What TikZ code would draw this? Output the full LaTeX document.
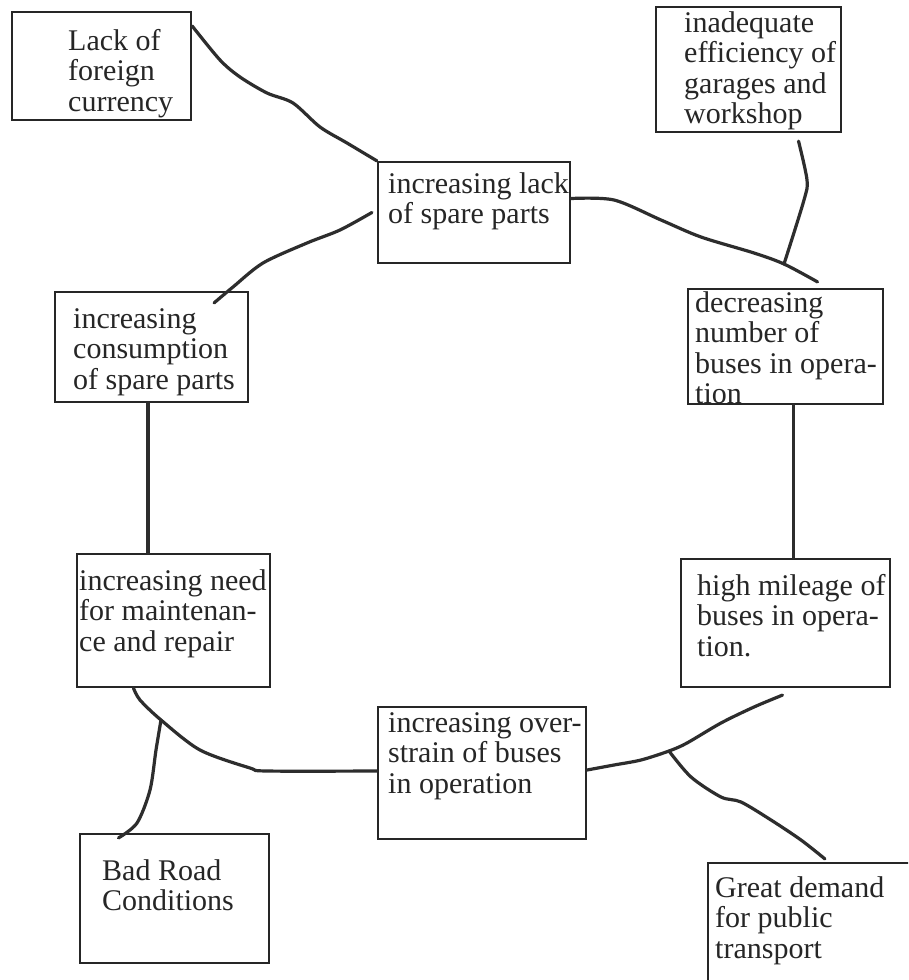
\documentclass[tikz,border=0pt]{standalone}
\usepackage{fontspec}
\setmainfont{Liberation Serif}
\definecolor{ink}{RGB}{38,38,38}
\definecolor{pen}{RGB}{45,45,45}
\tikzstyle{causebox}=[draw=ink, line width=2.2pt, rectangle, inner sep=0pt]
\tikzstyle{causetext}=[anchor=base west, align=left, inner sep=0pt, text=ink, font=\fontsize{30}{30.5}\selectfont]
\tikzstyle{strand}=[draw=pen, line width=3.2pt, line cap=round, line join=round]

\begin{document}
\begin{tikzpicture}[x=1pt, y=-1pt]
            \useasboundingbox (0,0) rectangle (908,980);
            \clip (0,0) rectangle (908,980);
            \fill[white] (0,0) rectangle (908,980);
            % boxes
            \node[causebox, minimum width=179pt, minimum height=108pt] (currency) at (101.5,66) {};
            \node[causebox, minimum width=185pt, minimum height=125pt] (garage) at (748.5,69.5) {};
            \node[causebox, minimum width=192pt, minimum height=101pt] (lack) at (474,212.5) {};
            \node[causebox, minimum width=193pt, minimum height=110pt] (cons) at (151.5,347) {};
            \node[causebox, minimum width=195pt, minimum height=115pt] (fewer) at (785.5,346.5) {};
            \node[causebox, minimum width=209pt, minimum height=128pt] (mileage) at (785.5,623) {};
            \node[causebox, minimum width=193pt, minimum height=133pt] (need) at (173.5,620.5) {};
            \node[causebox, minimum width=208pt, minimum height=132pt] (overs) at (482,773) {};
            \node[causebox, minimum width=189pt, minimum height=129pt] (road) at (174.5,898.5) {};
            \node[causebox, minimum width=227pt, minimum height=142pt] (demand) at (821.5,934) {};
            % texts (placed at the baseline of the last line)
            \node[causetext] (currency-t) at (68,111) {Lack of\\foreign\\currency};
            \node[causetext] (garage-t) at (684,123.5) {inadequate\\efficiency of\\garages and\\workshop};
            \node[causetext] (lack-t) at (388,223.5) {increasing lack\\of spare parts};
            \node[causetext] (cons-t) at (73,389) {increasing\\consumption\\of spare parts};
            \node[causetext] (fewer-t) at (695,403.5) {decreasing\\number of\\buses in opera-\\tion};
            \node[causetext] (mileage-t) at (697,656) {high mileage of\\buses in opera-\\tion.};
            \node[causetext] (need-t) at (79,651) {increasing need\\for maintenan-\\ce and repair};
            \node[causetext] (overs-t) at (388,793) {increasing over-\\strain of buses\\in operation};
            \node[causetext] (road-t) at (102,910.5) {Bad Road\\Conditions};
            \node[causetext] (demand-t) at (715,958) {Great demand\\for public\\transport};
            % junctions
            \coordinate (j1) at (784,264);
            \coordinate (j2) at (161,720);
            \coordinate (j3) at (669,751);
            % links
            \draw[strand] plot[smooth] coordinates {([yshift=-15pt]currency.north east) (220,60) (240,77) (267,93) (293,103) (320,127) (347,143) (lack.north west)};
            \draw[strand] plot[smooth] coordinates {([xshift=-35pt,yshift=-12pt]cons.north east) (233,287) (263,263) (307,243) (340,230) ([xshift=-5pt]lack.west)};
            \draw[strand] plot[smooth] coordinates {([yshift=14pt]lack.east) (614,200) (661,220) (701,237) (754,253) (j1) ([xshift=32pt,yshift=6pt]fewer.north)};
            \draw[strand] plot[smooth] coordinates {([xshift=50pt,yshift=-8pt]garage.south) (807,180) (804,200) (j1)};
            \draw[strand] ([xshift=8pt]fewer.south) -- ([xshift=8pt]mileage.north);
            \draw[strand] ([xshift=-3.5pt]cons.south) -- ([xshift=-25.5pt]need.north);
            \draw[strand] plot[smooth] coordinates {([xshift=-40pt]need.south) (140,700) (j2) (200,750) (250,768) (267,771) ([yshift=2pt]overs.west)};
            \draw[strand] plot[smooth] coordinates {([xshift=-56pt,yshift=-5pt]road.north) (137,823) (150,790) (156,750) (j2)};
            \draw[strand] plot[smooth] coordinates {([xshift=-3pt,yshift=-7pt]mileage.south) (754,707) (721,723) (687,743) (j3) (641,760) (614,765) ([yshift=3pt]overs.east)};
            \draw[strand] plot[smooth] coordinates {(j3) (691,777) (721,797) (741,802) (771,820) (801,840) ([xshift=118pt,yshift=3pt]demand.north west)};
        \end{tikzpicture}
\end{document}
